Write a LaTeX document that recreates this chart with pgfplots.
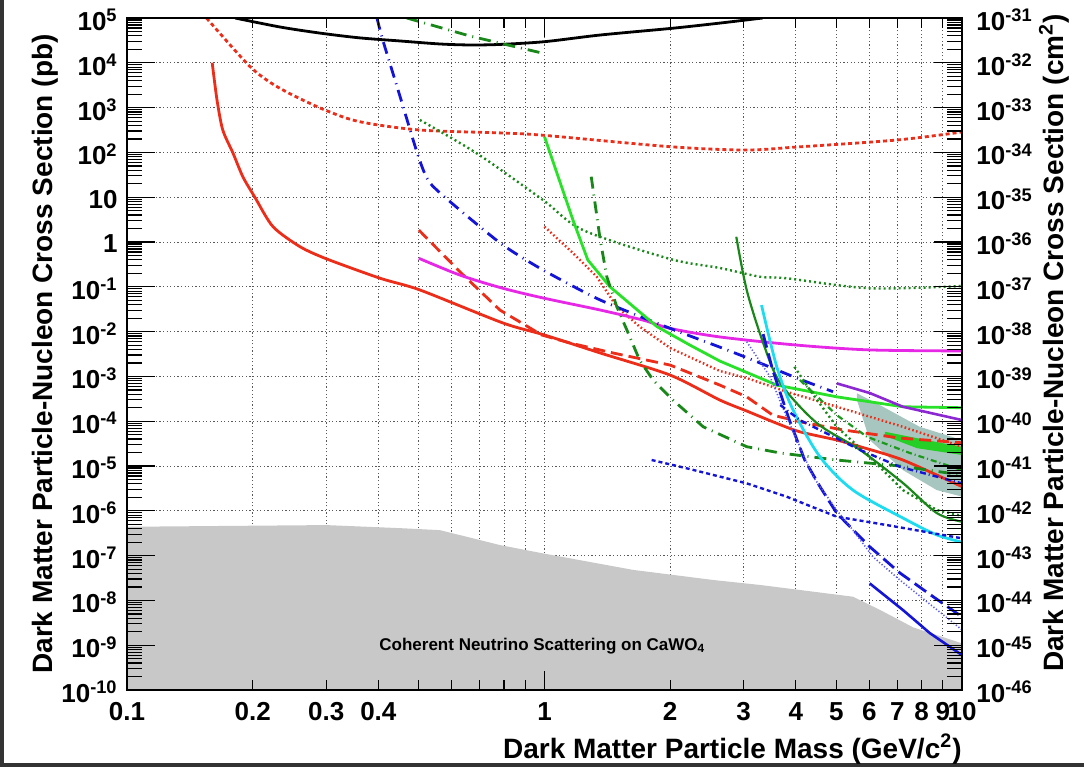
\documentclass[border=0pt]{standalone}
\usepackage{fontspec}
\setmainfont{Liberation Sans}
\usepackage{pgfplots}
\pgfplotsset{compat=1.18}

\definecolor{rred}{RGB}{235,45,25}
\definecolor{dgreen}{RGB}{25,135,25}
\definecolor{lgreen}{RGB}{40,225,40}
\definecolor{rblue}{RGB}{20,20,215}
\definecolor{rmag}{RGB}{230,40,230}
\definecolor{rcyan}{RGB}{30,220,240}
\definecolor{rpurple}{RGB}{140,40,210}
\definecolor{shade}{RGB}{168,198,192}
\definecolor{nufloor}{RGB}{200,200,200}

% minor tick positions 2..9 x 10^n for the right (cm^2) scale
\def\minorlist{2e-46}
\foreach \ee in {-46,...,-32}{\foreach \mm in {2,...,9}{\xdef\minorlist{\minorlist,\mm e\ee}}}

\newcommand{\tickfont}{\fontsize{13bp}{13bp}\selectfont\bfseries}
\newcommand{\labfont}{\fontsize{14bp}{14bp}\selectfont\bfseries}

\begin{document}
\begin{tikzpicture}
\path[use as bounding box] (0,0) rectangle (542bp,383.5bp);
\fill[black!80] (0,0) rectangle (2bp,383.5bp);
\fill[black!80] (0,0) rectangle (542bp,2bp);

% data, grid and tick labels
\begin{axis}[
  at={(63.5bp,38.5bp)}, anchor=south west,
  scale only axis, width=417.5bp, height=336bp,
  xmode=log, ymode=log,
  xmin=0.1, xmax=10, ymin=1e-10, ymax=1e5,
  axis line style={draw=none},
  xtick={0.1,0.2,0.3,0.4,0.5,0.6,0.7,0.8,0.9,1,2,3,4,5,6,7,8,9,10},
  xticklabels={0.1,0.2,0.3,0.4,,,,,,1,2,3,4,5,6,7,8,9,10},
  ytick={1e-10,1e-9,1e-8,1e-7,1e-6,1e-5,1e-4,1e-3,1e-2,1e-1,1,10,100,1000,1e4,1e5},
  yticklabels={10\textsuperscript{-10},10\textsuperscript{-9},10\textsuperscript{-8},10\textsuperscript{-7},10\textsuperscript{-6},10\textsuperscript{-5},10\textsuperscript{-4},10\textsuperscript{-3},10\textsuperscript{-2},10\textsuperscript{-1},1,10,10\textsuperscript{2},10\textsuperscript{3},10\textsuperscript{4},10\textsuperscript{5}},
  major tick length=0pt, minor tick length=0pt,
  xmajorgrids, ymajorgrids,
  grid style={black!65, line width=0.5bp, dash pattern=on 0.6bp off 1.2bp},
  tick label style={font=\tickfont},
  xticklabel style={anchor=north, inner sep=0pt, yshift=-6bp},
  yticklabel style={anchor=east, inner sep=0pt, xshift=-4.5bp, yshift=-1bp},
]
% coherent neutrino floor
\addplot[draw=none, fill=nufloor] coordinates {
 (0.1,1e-10) (0.1,4.4e-7) (0.3,4.8e-7) (0.451,4.1e-7) (0.562,3.7e-7) (0.782,1.72e-7)
 (0.992,1.12e-7) (1.63,4.8e-8) (2.54,2.85e-8) (3.30,2.2e-8) (5.48,1.21e-8)
 (6.37,6.1e-9) (7.64,2.5e-9) (10,1.1e-9) (10,1e-10)} -- cycle;
% shaded region
\addplot[draw=none, fill=shade] coordinates {
 (5.60,4.2e-4) (6.25,2.5e-4) (7.92,7.5e-5) (10,3.8e-5) (10,2.07e-6) (8.70,2.9e-6)
 (7.22,8.1e-6) (6.01,3.8e-5) (5.60,3.0e-4)} -- cycle;
\addplot[draw=none, fill=lgreen!80!dgreen] coordinates {
 (6.54,5.8e-5) (9.02,3.2e-5) (10,2.7e-5) (10,1.76e-5) (7.80,2.5e-5) (6.54,4.7e-5)} -- cycle;

% black
\addplot[black, line width=1.4bp, smooth, tension=0.5] coordinates {
 (0.1815,1e5) (0.2325,6.3e4) (0.290,4.6e4) (0.361,3.6e4) (0.451,3.07e4) (0.562,2.63e4)
 (0.663,2.5e4) (0.782,2.57e4) (1.0,2.96e4) (1.36,4.17e4) (2.02,5.89e4) (2.63,7.7e4) (3.33,1e5)};
% red short dashes, high
\addplot[rred, line width=1.4bp, dash pattern=on 2bp off 1.5bp, smooth, tension=0.5] coordinates {
 (0.155,1e5) (0.1936,9.75e3) (0.216,4130) (0.2446,2085) (0.298,883) (0.361,484) (0.503,316)
 (0.795,271) (1.0,240) (2.0,134) (3.02,113) (4.03,132) (6.98,189) (10,285)};
% red solid
\addplot[rred, line width=1.4bp, smooth, tension=0.45] coordinates {
 (0.16,1e4) (0.1643,1479) (0.1696,316) (0.1794,97) (0.1896,28.3) (0.2025,9.95) (0.2237,2.2)
 (0.2597,0.785) (0.301,0.418) (0.404,0.155) (0.503,0.085) (0.795,0.0156) (1.0,8.4e-3)
 (1.36,3.33e-3) (2.0,1.07e-3) (2.63,2.97e-4) (3.05,1.69e-4) (3.60,8.97e-5) (4.09,5.8e-5)
 (5.01,3.8e-5) (5.70,2.7e-5) (7.22,1.36e-5) (10,3.46e-6)};
% red dashed
\addplot[rred, line width=1.4bp, dash pattern=on 6bp off 3bp] coordinates {
 (0.5,1.85) (0.627,0.217) (0.782,0.0303) (0.985,8.4e-3) (1.151,5.57e-3) (1.46,3.33e-3)
 (2.0,1.79e-3) (2.63,6.4e-4) (3.05,3.5e-4) (3.52,1.37e-4) (4.09,9.7e-5) (5.18,6.4e-5)
 (7.10,4.2e-5) (10,3.3e-5)};
% red dotted
\addplot[rred, line width=1.2bp, dash pattern=on 0.8bp off 1.2bp] coordinates {
 (1.0,2.2) (1.17,0.567) (1.334,0.168) (1.49,0.036) (1.69,0.0129) (2.0,4.3e-3) (2.63,1.32e-3)
 (3.05,9.2e-4) (3.80,4.55e-4) (5.01,2.11e-4) (7.22,7.5e-5) (10,2.7e-5)};
% magenta
\addplot[rmag, line width=1.4bp, smooth, tension=0.5] coordinates {
 (0.5,0.433) (0.627,0.183) (0.795,0.0927) (1.0,0.0554) (1.36,0.0303) (1.72,0.0181) (2.0,0.0118)
 (2.63,7.6e-3) (4.02,5.0e-3) (6.01,3.9e-3) (10,3.7e-3)};
% blue dash-dot
\addplot[rblue, line width=1.4bp, dash pattern=on 6bp off 3bp on 0.5bp off 3bp, smooth, tension=0.4] coordinates {
 (0.397,1e5) (0.410,3.2e4) (0.451,1750) (0.499,80) (0.532,20.7) (0.627,5.18) (0.795,0.857)
 (0.992,0.237) (1.36,0.0507) (2.0,0.0118) (2.63,4.5e-3) (3.16,2.3e-3) (4.02,9.2e-4) (4.91,4.55e-4)};
% green dash-dot, top
\addplot[dgreen, line width=1.4bp, dash pattern=on 6bp off 3bp on 0.5bp off 3bp] coordinates {
 (0.468,1e5) (0.663,3.96e4) (0.992,1.63e4)};
% green dotted
\addplot[dgreen, line width=1.2bp, dash pattern=on 1bp off 1.5bp, smooth, tension=0.5] coordinates {
 (0.503,529) (0.688,95.5) (0.992,8.65) (1.236,1.85) (2.0,0.418) (2.63,0.263) (3.28,0.168)
 (3.80,0.155) (6.01,0.0927) (10,0.104)};
% light green
\addplot[lgreen, line width=1.4bp] coordinates {
 (1.0,224) (1.17,3.1) (1.27,0.396) (1.435,0.1) (1.86,0.0129) (2.23,5.0e-3) (2.63,2.2e-3)
 (3.60,6.4e-4) (5.01,3.5e-4) (7.22,2.1e-4) (10,2.0e-4)};
% dark green dash-dot
\addplot[dgreen, line width=1.4bp, dash pattern=on 6bp off 3bp on 0.5bp off 3bp] coordinates {
 (1.294,28.7) (1.36,1.11) (1.41,0.168) (1.49,0.036) (1.575,0.0109) (1.69,2.3e-3) (1.82,8.3e-4)
 (2.03,2.97e-4) (2.40,7.5e-5) (3.05,2.7e-5) (3.67,1.95e-5) (5.01,1.36e-5) (7.10,1e-5) (10,6.3e-6)};
% dark green solid
\addplot[dgreen, line width=1.1bp, smooth, tension=0.5] coordinates {
 (2.88,1.31) (3.05,0.085) (3.34,5.6e-3) (3.67,7.1e-4) (4.49,9.1e-5) (5.70,2.28e-5)
 (7.22,4.17e-6) (8.70,8.9e-7) (10,5.7e-7)};
% green dotted, right
\addplot[dgreen, line width=1.2bp, dash pattern=on 1bp off 1.5bp] coordinates {
 (3.97,1.64e-3) (4.32,4.97e-4) (5.01,7.5e-5) (6.01,1.6e-5) (7.22,2.9e-6) (8.70,1.04e-6) (10,7.7e-7)};
\addplot[dgreen!80!lgreen, line width=1.1bp, dash pattern=on 3bp off 1.5bp on 0.5bp off 1.5bp] coordinates {
 (4.09,8.3e-4) (5.01,1.37e-4) (5.92,4.5e-5) (7.50,1.95e-5) (10,8.1e-6)};
% cyan
\addplot[rcyan, line width=1.4bp, smooth, tension=0.5] coordinates {
 (3.31,0.039) (3.60,1.65e-3) (3.94,1.78e-4) (4.57,1.6e-5) (5.48,2.9e-6) (7.22,6.9e-7)
 (8.70,2.9e-7) (10,2.0e-7)};
% blue dashed
\addplot[rblue, line width=1.4bp, dash pattern=on 7bp off 3bp] coordinates {
 (3.34,8.8e-3) (3.52,1.39e-3) (3.86,1.06e-4) (4.20,1.36e-5) (4.57,3.45e-6) (5.01,8.9e-7)
 (6.01,1.58e-7) (7.10,4.1e-8) (8.53,1.21e-8) (10,4.3e-9)};
% blue solid
\addplot[rblue, line width=1.3bp] coordinates {
 (6.01,2.4e-8) (7.22,6.1e-9) (8.37,1.87e-9) (10,6.0e-10)};
% blue short dashes
\addplot[rblue, line width=1.2bp, dash pattern=on 2bp off 1.5bp] coordinates {
 (1.806,1.36e-5) (2.19,8.9e-6) (3.05,4.1e-6) (3.80,2.07e-6) (5.01,7.4e-7) (6.61,4.8e-7) (10,2.43e-7)};
% blue fine dotted
\addplot[rblue!70, line width=0.8bp, dash pattern=on 0.6bp off 1bp] coordinates {
 (3.05,5.95e-3) (3.47,9.8e-4) (3.80,1.26e-4) (4.40,5.8e-6) (5.01,1.04e-6) (5.48,3.7e-7)
 (6.12,9.4e-8) (7.10,2.85e-8) (8.53,7.2e-9) (10,2.2e-9)};
% blue dash-dot, right
\addplot[rblue, line width=1.2bp, dash pattern=on 3bp off 1.5bp on 0.5bp off 1.5bp] coordinates {
 (3.67,2.3e-4) (4.09,1.06e-4) (5.70,2.28e-5) (7.10,9.6e-6) (10,4.1e-6)};
% purple
\addplot[rpurple, line width=1.3bp] coordinates {
 (5.01,7.0e-4) (6.01,4.26e-4) (7.22,2.1e-4) (10,1.06e-4)};

\node[anchor=base west, inner sep=0pt, font=\fontsize{8.5bp}{8.5bp}\selectfont\bfseries]
  at (axis cs:0.4015,7.8e-10) {Coherent Neutrino Scattering on CaWO\textsubscript{4}};
\end{axis}

% frame and x ticks
\begin{axis}[
  at={(63.5bp,38.5bp)}, anchor=south west,
  scale only axis, width=417.5bp, height=336bp,
  xmode=log, ymode=log,
  xmin=0.1, xmax=10, ymin=1e-10, ymax=1e5,
  xtick={1}, minor xtick={0.2,0.3,0.4,0.5,0.6,0.7,0.8,0.9,2,3,4,5,6,7,8,9},
  xticklabels={}, ytick=\empty, xtick pos=both,
  major tick length=9.35bp, minor tick length=5bp, tick align=inside,
  tick style={black, line width=0.6bp},
  axis line style={black, line width=1bp},
]
\end{axis}

% y ticks, right scale
\begin{axis}[
  at={(63.5bp,38.5bp)}, anchor=south west,
  scale only axis, width=417.5bp, height=336bp,
  xmode=log, ymode=log,
  xmin=0.1, xmax=10, ymin=1e-46, ymax=1e-31,
  xtick=\empty,
  ytick={1e-46,1e-45,1e-44,1e-43,1e-42,1e-41,1e-40,1e-39,1e-38,1e-37,1e-36,1e-35,1e-34,1e-33,1e-32,1e-31},
  yticklabels={10\textsuperscript{-46},10\textsuperscript{-45},10\textsuperscript{-44},10\textsuperscript{-43},10\textsuperscript{-42},10\textsuperscript{-41},10\textsuperscript{-40},10\textsuperscript{-39},10\textsuperscript{-38},10\textsuperscript{-37},10\textsuperscript{-36},10\textsuperscript{-35},10\textsuperscript{-34},10\textsuperscript{-33},10\textsuperscript{-32},10\textsuperscript{-31}},
  minor ytick/.expanded={\minorlist},
  ytick pos=both, yticklabel pos=right,
  major tick length=14bp, minor tick length=7.5bp, tick align=inside,
  tick style={black, line width=0.6bp},
  axis line style={draw=none},
  tick label style={font=\tickfont},
  yticklabel style={anchor=west, inner sep=0pt, xshift=7bp, yshift=-1bp},
]
\end{axis}

\node[rotate=90, anchor=base, inner sep=0pt, font=\labfont] at (26bp,206.5bp)
  {Dark Matter Particle-Nucleon Cross Section (pb)};
\node[rotate=90, anchor=base, inner sep=0pt, font=\labfont] at (531.5bp,212bp)
  {Dark Matter Particle-Nucleon Cross Section (cm\textsuperscript{2})};
\node[anchor=base east, inner sep=0pt, font=\labfont] at (481bp,4.5bp)
  {Dark Matter Particle Mass (GeV/c\textsuperscript{2})};
\end{tikzpicture}
\end{document}
